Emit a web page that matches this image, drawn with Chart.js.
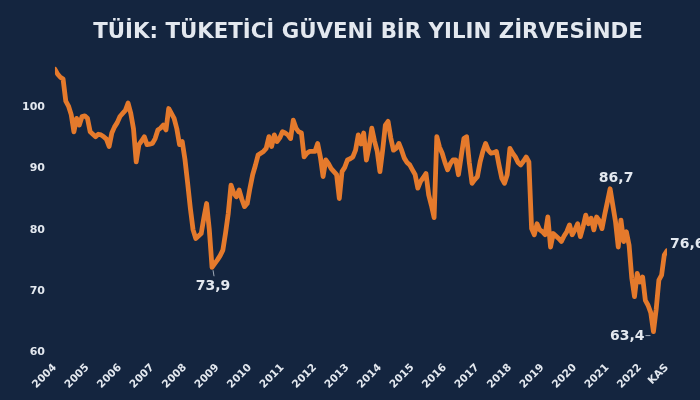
<!DOCTYPE html>
<html>
<head>
<meta charset="utf-8">
<script src="https://cdn.jsdelivr.net/npm/chart.js@4.4.0/dist/chart.umd.min.js"></script>
<style>
  html, body { margin: 0; padding: 0; background: #14253f; }
  #wrap { width: 700px; height: 400px; position: relative; }
</style>
</head>
<body>
<div id="wrap"><canvas id="c"></canvas></div>
<script>
const title = 'TÜİK: TÜKETİCİ GÜVENİ BİR YILIN ZİRVESİNDE'
const years = ['2004', '2005', '2006', '2007', '2008', '2009', '2010', '2011', '2012', '2013',
  '2014', '2015', '2016', '2017', '2018', '2019', '2020', '2021', '2022']
const lastLabel = 'KAS'
const yTicks = [60, 70, 80, 90, 100]

// monthly index, Jan 2004 .. Nov 2022
const confidence = [
  106.2, 105.4, 104.9, 104.6, 101.0, 100.2, 98.8, 96.0, 98.2, 97.1, 98.5, 98.6, // 2004
  98.2, 96.0, 95.6, 95.2, 95.6, 95.5, 95.2, 94.8, 93.6, 95.8, 96.8, 97.5, // 2005
  98.5, 99.0, 99.5, 100.7, 99.0, 96.5, 91.1, 93.9, 94.5, 95.2, 93.9, 94.0, // 2006
  94.1, 94.9, 96.3, 96.6, 97.1, 96.3, 99.8, 99.0, 98.2, 96.5, 93.9, 94.4, // 2007
  91.5, 87.6, 83.5, 80.0, 78.6, 79.0, 79.4, 82.0, 84.3, 80.0, 73.9, 74.5, // 2008
  75.1, 75.8, 76.7, 79.5, 82.7, 87.3, 86.0, 85.4, 86.5, 85.0, 83.8, 84.3, // 2009
  86.8, 89.0, 90.5, 92.2, 92.5, 92.8, 93.3, 95.2, 93.6, 95.5, 94.4, 95.0, // 2010
  96.0, 95.8, 95.5, 94.9, 97.9, 96.6, 96.0, 95.8, 91.9, 92.5, 92.8, 92.8, // 2011
  92.8, 94.1, 91.9, 88.7, 91.4, 90.8, 90.0, 89.5, 89.0, 85.1, 89.5, 90.2, // 2012
  91.4, 91.6, 91.9, 93.0, 95.5, 94.0, 95.8, 91.4, 93.5, 96.6, 94.5, 92.8, // 2013
  89.5, 93.0, 97.1, 97.7, 95.0, 93.0, 93.3, 94.1, 93.0, 91.7, 91.0, 90.6, // 2014
  89.8, 89.0, 86.8, 87.9, 88.5, 89.2, 85.7, 84.0, 82.0, 95.2, 93.5, 92.5, // 2015
  91.0, 89.8, 90.8, 91.4, 91.4, 89.0, 92.0, 94.9, 95.2, 91.0, 87.6, 88.2, // 2016
  88.7, 91.1, 92.8, 94.1, 93.0, 92.5, 92.6, 92.8, 90.5, 88.4, 87.6, 89.0, // 2017
  93.3, 92.5, 91.9, 91.0, 90.6, 91.2, 91.9, 91.1, 80.2, 79.2, 81.0, 80.0, // 2018
  79.7, 79.2, 82.1, 77.2, 79.4, 79.0, 78.6, 78.1, 79.0, 79.7, 80.8, 79.2, // 2019
  80.0, 81.0, 78.9, 80.5, 82.4, 81.0, 81.9, 80.0, 82.1, 81.5, 80.2, 82.5, // 2020
  84.6, 86.7, 84.0, 81.3, 77.2, 81.6, 78.1, 79.7, 77.5, 72.1, 69.1, 72.9, // 2021
  71.5, 72.3, 68.5, 67.7, 66.5, 63.4, 67.0, 71.8, 72.6, 75.9, 76.6 // 2022
]

// months (index into confidence) that get a value label
const calloutMonths = [58, 205, 221, 226]

const textColor = '#e3e8ef'
const lastIdx = confidence.length - 1

const overlay = {
  id: 'overlay',
  afterDatasetsDraw (chart) {
    const { ctx, scales: { x, y } } = chart
    ctx.save()
    ctx.fillStyle = textColor

    // title
    ctx.font = 'bold 21.3px "DejaVu Sans"'
    ctx.textAlign = 'center'
    ctx.textBaseline = 'alphabetic'
    ctx.fillText(title, 368, 38)

    // value labels with their little leader marks
    ctx.font = 'bold 14px "DejaVu Sans"'
    ctx.strokeStyle = 'rgba(220,226,235,0.7)'
    ctx.lineWidth = 1
    const place = [
      { dx: 1, dy: 19, align: 'center', lead: [1, 3, 2, 9] },
      { dx: 6, dy: -10, align: 'center', lead: null },
      { dx: -9, dy: 5, align: 'right', lead: [-8, 4, -3, 4] },
      { dx: 3, dy: -6, align: 'left', lead: null }
    ]
    calloutMonths.forEach((m, i) => {
      const v = confidence[m]
      const px = x.getPixelForValue(m)
      const py = y.getPixelForValue(v)
      const p = place[i]
      if (p.lead) {
        ctx.beginPath()
        ctx.moveTo(px + p.lead[0], py + p.lead[1])
        ctx.lineTo(px + p.lead[2], py + p.lead[3])
        ctx.stroke()
      }
      ctx.textAlign = p.align
      ctx.textBaseline = 'middle'
      ctx.fillText(v.toFixed(1).replace('.', ','), px + p.dx, py + p.dy)
    })
    ctx.restore()
  }
}

new Chart(document.getElementById('c'), {
  type: 'line',
  data: {
    datasets: [{
      data: confidence.map((v, i) => ({ x: i, y: v })),
      borderColor: '#e57a2c',
      borderWidth: 4.8,
      borderJoinStyle: 'round',
      borderCapStyle: 'round',
      pointRadius: 0,
      tension: 0,
      fill: false
    }]
  },
  options: {
    responsive: true,
    maintainAspectRatio: false,
    animation: false,
    layout: { padding: { left: 12, right: 33, top: 46, bottom: 0 } },
    plugins: { legend: { display: false }, tooltip: { enabled: false } },
    scales: {
      x: {
        type: 'linear',
        min: 0,
        max: lastIdx,
        border: { display: false },
        grid: { display: false, drawTicks: false },
        afterBuildTicks (axis) {
          axis.ticks = years.map((_, i) => ({ value: i * 12 })).concat([{ value: lastIdx }])
        },
        ticks: {
          autoSkip: false,
          minRotation: 45,
          maxRotation: 45,
          padding: 9,
          color: textColor,
          font: { family: 'DejaVu Sans', weight: 'bold', size: 10.5 },
          callback: (v, i) => (i < years.length ? years[i] : lastLabel)
        }
      },
      y: {
        min: 60,
        max: 110,
        border: { display: false },
        grid: { display: false, drawTicks: false },
        afterBuildTicks (axis) {
          axis.ticks = yTicks.map(v => ({ value: v }))
        },
        ticks: {
          padding: 10,
          color: textColor,
          font: { family: 'DejaVu Sans', weight: 'bold', size: 11 }
        }
      }
    }
  },
  plugins: [overlay]
})
</script>
</body>
</html>
